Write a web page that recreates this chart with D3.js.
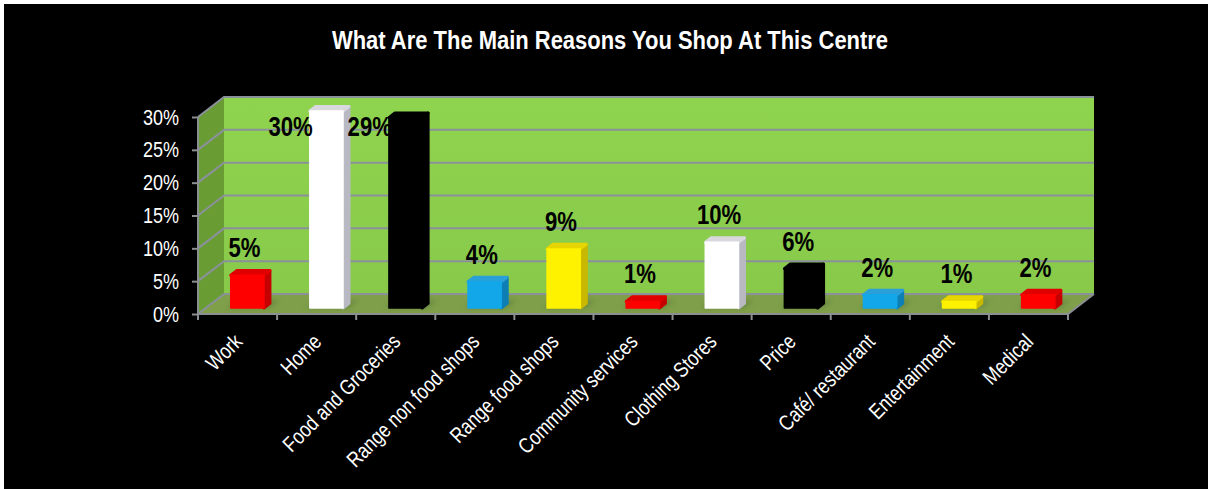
<!DOCTYPE html>
<html>
<head>
<meta charset="utf-8">
<script src="https://cdn.jsdelivr.net/npm/d3@7/dist/d3.min.js"></script>
<style>
html,body{margin:0;padding:0;background:#000;}
svg{display:block;}
text{font-family:"Liberation Sans",Arial,sans-serif;}
</style>
</head>
<body>
<svg id="chart" width="1208" height="489"></svg>
<script>
const titleText = "What Are The Main Reasons You Shop At This Centre";
const categories = ["Work","Home","Food and Groceries","Range non food shops","Range food shops","Community services","Clothing Stores","Price","Café/ restaurant","Entertainment","Medical"];
const shares = [5,30,29,4,9,1,10,6,2,1,2];
const barFronts = ["#ff0000","#ffffff","#000000","#12a7e8","#fff200","#ff0000","#ffffff","#000000","#12a7e8","#fff200","#ff0000"];
const barSides = ["#c40000","#b9b9c4","#000000","#0d7fb5","#c9b800","#c40000","#b9b9c4","#000000","#0d7fb5","#c9b800","#c40000"];
const barTops = ["#e00000","#d8d8de","#000000","#2a9fd8","#e6d500","#e00000","#d8d8de","#000000","#2a9fd8","#e6d500","#e00000"];
const yTicks = [0,5,10,15,20,25,30];

const svg = d3.select("#chart");
const W = 1208, H = 489;
const NARROW = 0.82;   // condensed setting applied to all labels

// Sheet background with its thin white top and left edges
svg.append("rect").attr("width",W).attr("height",H).attr("fill","#fff");
svg.append("rect").attr("x",4).attr("y",4).attr("width",W-4).attr("height",H-4).attr("fill","#000");

const x = d3.scaleBand().domain(categories).range([198,1068]).padding(0);
const y = d3.scaleLinear().domain([0,30]).range([314,117]);

// Oblique projection: depth runs from the front plane (0) to the back wall (1)
const DX = 26, DY = -20;
const proj = (px, py, z) => [px + z*DX, py + z*DY];
const poly = pts => pts.map(p => p.join(",")).join(" ");

const xL = x.range()[0], xR = x.range()[1];

const defs = svg.append("defs");
const wall = defs.append("linearGradient").attr("id","wall").attr("x1",0).attr("y1",0).attr("x2",0).attr("y2",1);
wall.append("stop").attr("offset",0).attr("stop-color","#8fd44e");
wall.append("stop").attr("offset",1).attr("stop-color","#88c94a");
defs.append("filter").attr("id","soft").attr("x","-30%").attr("y","-60%").attr("width","160%").attr("height","220%")
  .append("feGaussianBlur").attr("stdDeviation",2.5);

// Back wall
svg.append("polygon")
  .attr("points",poly([proj(xL,y(30),1),proj(xR,y(30),1),proj(xR,y(0),1),proj(xL,y(0),1)]))
  .attr("fill","url(#wall)");
// Side wall
svg.append("polygon")
  .attr("points",poly([proj(xL,y(30),0),proj(xL,y(30),1),proj(xL,y(0),1),proj(xL,y(0),0)]))
  .attr("fill","#6a9c34");
// Floor
svg.append("polygon")
  .attr("points",poly([proj(xL,y(0),0),proj(xL,y(0),1),proj(xR,y(0),1),proj(xR,y(0),0)]))
  .attr("fill","#7f9f4a");

// Gridlines wrap from the side wall round the back wall
const gridColor = "#8a919a";
yTicks.forEach(t => {
  const a = proj(xL,y(t),0), b = proj(xL,y(t),1), c = proj(xR,y(t),1);
  svg.append("polyline")
    .attr("points",poly([a,b,c]))
    .attr("fill","none").attr("stroke",gridColor).attr("stroke-width",2);
});
// Floor front and right edge, side wall front edge
svg.append("polyline")
  .attr("points",poly([proj(xL,y(30),0),proj(xL,y(0),0),proj(xR,y(0),0),proj(xR,y(0),1)]))
  .attr("fill","none").attr("stroke","#8b8f92").attr("stroke-width",2);

// Value axis
const yAxis = d3.axisLeft(y).tickValues(yTicks).tickFormat(d => d + "%").tickSize(6).tickPadding(13);
const gy = svg.append("g").attr("transform",`translate(${xL},0)`).call(yAxis);
gy.select(".domain").remove();
gy.selectAll("line").attr("stroke","#8b8f92").attr("stroke-width",2);
gy.selectAll("text")
  .attr("fill","#fff").attr("font-size",22)
  .attr("x",-19/NARROW)
  .attr("transform",`scale(${NARROW},1)`);

// Category axis ticks at the band edges
svg.append("g").selectAll("line")
  .data(categories.map(c => x(c)).concat([xR]))
  .join("line")
  .attr("x1",d=>d).attr("x2",d=>d).attr("y1",y(0)).attr("y2",y(0)+6)
  .attr("stroke","#8b8f92").attr("stroke-width",2);

// Rotated category labels
svg.append("g").selectAll("text")
  .data(categories)
  .join("text")
  .attr("transform",c => `translate(${x(c)+x.bandwidth()/2+6},${y(0)+29}) rotate(-45) scale(${NARROW},1)`)
  .attr("text-anchor","end")
  .attr("fill","#fff")
  .attr("font-size",21.5)
  .text(c => c);

// Bars
const barW = 0.42, zFront = 0.3, zBack = 0.53;
const bars = svg.append("g");
const roundedPoly = (g, pts, fill, sw) => g.append("polygon")
  .attr("points",poly(pts))
  .attr("fill",fill).attr("stroke",fill)
  .attr("stroke-linejoin","round").attr("stroke-width",sw);
categories.forEach((c,i) => {
  const cx = x(c) + x.bandwidth()/2;
  const x0 = cx - x.bandwidth()*barW/2 + 2, x1 = x0 + x.bandwidth()*barW;
  const yb = y(0), yt = y(shares[i]);
  const g = bars.append("g");
  // soft contact shadow on the floor
  g.append("polygon")
    .attr("points",poly([proj(x0-4,yb,zFront),proj(x0-4,yb,zBack+.15),proj(x1+5,yb,zBack+.15),proj(x1+5,yb,zFront)]))
    .attr("fill","#55733a").attr("opacity",.55).attr("filter","url(#soft)");
  roundedPoly(g,[proj(x1,yb,zFront),proj(x1,yb,zBack),proj(x1,yt,zBack),proj(x1,yt,zFront)],barSides[i],3);
  roundedPoly(g,[proj(x0,yt,zFront),proj(x0,yt,zBack),proj(x1,yt,zBack),proj(x1,yt,zFront)],barTops[i],3);
  roundedPoly(g,[proj(x0,yt,zFront),proj(x1,yt,zFront),proj(x1,yb,zFront),proj(x0,yb,zFront)],barFronts[i],1.5);
});

// Value labels sit above each bar; the two tallest sit beside it
const isBeside = v => v >= 29;
svg.append("g").selectAll("text")
  .data(categories)
  .join("text")
  .attr("transform",(c,i) => {
    const cx = x(c)+x.bandwidth()/2;
    const lx = isBeside(shares[i]) ? cx - 26 : cx + 7;
    const ly = isBeside(shares[i]) ? y(30) + 19 : y(shares[i]) - 24;
    return `translate(${lx},${ly}) scale(${NARROW},1)`;
  })
  .attr("text-anchor","middle")
  .attr("font-weight","bold")
  .attr("font-size",27)
  .attr("fill","#000")
  .text((c,i) => shares[i] + "%");

// Title
svg.append("text")
  .attr("transform",`translate(610,49) scale(0.845,1)`)
  .attr("text-anchor","middle")
  .attr("font-weight","bold")
  .attr("font-size",26)
  .attr("fill","#fff")
  .text(titleText);
</script>
</body>
</html>
